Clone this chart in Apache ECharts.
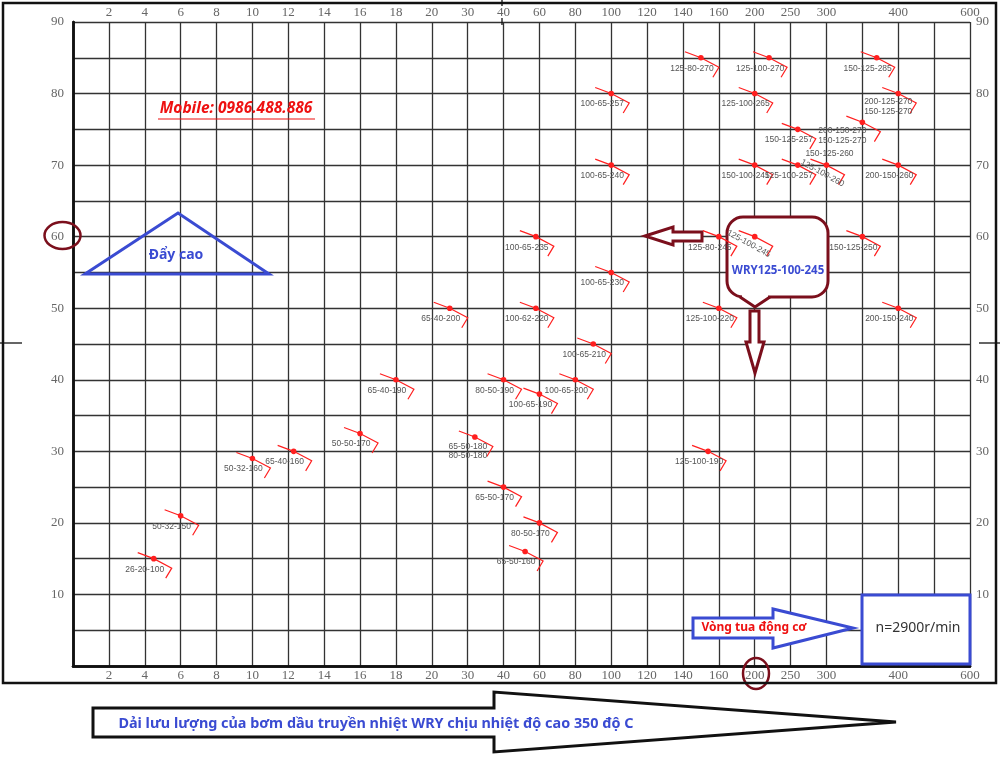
<!DOCTYPE html>
<html><head><meta charset="utf-8">
<script src="https://cdn.jsdelivr.net/npm/echarts@6/dist/echarts.min.js"></script>
<style>html,body{margin:0;padding:0;background:#fff}#c{width:1000px;height:762px}</style>
</head><body><div id="c"></div>
<script>
// ---- axis ticks (non-linear flow axis, m3/h) ----
const xTickValues = [0,2,4,6,8,10,12,14,16,18,20,30,40,60,80,100,120,140,160,200,250,300,350,400,500,600];
const xTickLabels = ['','2','4','6','8','10','12','14','16','18','20','30','40','60','80','100','120','140','160','200','250','300','','400','','600'];
const yTickLabels = [10,20,30,40,50,60,70,80,90];

// ---- pump models, flow (m3/h) and head (m) ----
const models = [
 '26-20-100','50-32-150','50-32-160','65-40-160','50-50-170','65-40-190','65-40-200',
 '65-50-180\n80-50-180','65-50-170','80-50-190','65-50-160','80-50-170','100-65-190',
 '100-62-220','100-65-235','100-65-200','100-65-210','100-65-230','100-65-240','100-65-257',
 '125-100-190','125-80-245','125-100-220','125-80-270','125-100-270','125-100-265',
 '150-100-245','125-100-245','125-100-257','150-125-257','150-125-260\n125-100-260',
 '200-150-270\n150-125-270','150-125-250','150-125-285','200-125-270\n150-125-270',
 '200-150-260','200-150-240'
];
const flowRate = [4.5,6,10,12.3,16,18,25,32,40,40,52,60,60,58,58,80,90,100,100,100,
 154,160,160,150,220,200,200,200,260,260,300,350,350,370,400,400,400];
const head = [15,21,29,30,32.5,40,50,32,25,40,16,20,38,50,60,40,45,55,70,80,
 30,60,50,85,85,80,70,60,70,75,70,76,60,85,80,70,50];

function slotOf(q){
  for (let i=0;i<xTickValues.length-1;i++){
    const a=xTickValues[i], b=xTickValues[i+1];
    if (q>=a && q<=b) return i+(q-a)/(b-a);
  }
  return xTickValues.length-1;
}

const RED='#ff1f1f', BLUE='#3a4bd2', DARKRED='#7b0f1c', GRID='#333';
const labelTweaks = {
  '200-150-270\n150-125-270': {dx:-20, dy:13.5},
  '200-125-270\n150-125-270': {dx:-10, dy:13},
  '65-50-180\n80-50-180': {dx:-7, dy:14},
  '125-100-245': {dx:-6, dy:7, rot:-0.5},
  '150-125-260\n125-100-260': {parts:[{dx:3,dy:-11,rot:0},{dx:-4,dy:8,rot:-0.5}]}
};
const LABEL_FONT='8.5px "Liberation Sans", Arial, sans-serif';

function renderItem(params, api){
  const p = api.coord([api.value(0), api.value(1)]);
  const x=p[0], y=p[1];
  const name = models[api.value(2)];
  const t = labelTweaks[name] || {dx:-9, dy:10.5, rot:0};
  const children = [
    {type:'polyline', shape:{points:[[x-16,y-6],[x,y],[x+18,y+9.5],[x+12,y+19.5]]},
     style:{stroke:RED, lineWidth:1.2, fill:null}},
    {type:'circle', shape:{cx:x, cy:y, r:2.8}, style:{fill:RED}}
  ];
  const mk = (text, o) => ({type:'text', x:x+o.dx, y:y+o.dy, rotation:o.rot||0,
    style:{text:text, fill:'#555', font:LABEL_FONT, align:'center', verticalAlign:'middle', lineHeight:9.5}});
  if (t.parts){
    name.split('\n').forEach((s,k)=>children.push(mk(s,t.parts[k])));
  } else children.push(mk(name,t));
  return {type:'group', children};
}

const axisLabelX = {fontFamily:'"Liberation Serif", serif', fontSize:13, color:'#666', margin:3,
  formatter: v => xTickLabels[Math.round(v)] || ''};
const axisLabelY = (m) => ({fontFamily:'"Liberation Serif", serif', fontSize:13, color:'#666', margin:m,
  formatter: v => yTickLabels.indexOf(v)>=0 ? String(v) : ''});
const axisLineBold = {show:true, lineStyle:{color:'#111', width:2.5}};

const chart = echarts.init(document.getElementById('c'));
chart.setOption({
  animation:false,
  backgroundColor:'#fff',
  grid:{left:73, top:22, width:897, height:644},
  xAxis:[
    {type:'value', position:'bottom', min:0, max:25, interval:1, axisLine:axisLineBold,
     axisTick:{show:false}, axisLabel:axisLabelX,
     splitLine:{show:true, lineStyle:{color:GRID, width:1.3}}},
    {type:'value', position:'top', min:0, max:25, interval:1, axisLine:axisLineBold,
     axisTick:{show:false}, axisLabel:axisLabelX, splitLine:{show:false}}
  ],
  yAxis:[
    {type:'value', position:'left', min:0, max:90, interval:5, axisLine:axisLineBold,
     axisTick:{show:false}, axisLabel:axisLabelY(9),
     splitLine:{show:true, lineStyle:{color:GRID, width:1.3}}},
    {type:'value', position:'right', min:0, max:90, interval:5, axisLine:axisLineBold,
     axisTick:{show:false}, axisLabel:axisLabelY(6), splitLine:{show:false}}
  ],
  series:[{
    type:'custom', z:5, clip:false,
    data: models.map((m,i)=>[slotOf(flowRate[i]), head[i], i]),
    encode:{x:0, y:1},
    renderItem
  }],
  graphic:[
    {type:'rect', z:20, silent:true, shape:{x:3,y:3,width:993,height:680}, style:{fill:null, stroke:'#111', lineWidth:2.5}},
    {type:'line', z:20, shape:{x1:0,y1:343,x2:22,y2:343}, style:{stroke:'#111', lineWidth:1.3}},
    {type:'line', z:20, shape:{x1:979,y1:343,x2:1000,y2:343}, style:{stroke:'#111', lineWidth:1.3}},
    {type:'line', z:20, shape:{x1:502,y1:0,x2:502,y2:6}, style:{stroke:'#111', lineWidth:1.3}},
    {type:'line', z:20, shape:{x1:502,y1:18,x2:502,y2:25}, style:{stroke:'#111', lineWidth:1.3}},
    // Đẩy cao triangle
    {type:'polygon', z:3, shape:{points:[[85,274],[178,213],[269,274]]}, style:{fill:null, stroke:BLUE, lineWidth:3}},
    {type:'text', z:3, x:176, y:255, style:{text:'Đẩy cao', fill:BLUE, font:'bold 14px "Noto Sans"', align:'center', verticalAlign:'middle'}},
    // Mobile
    {type:'text', z:3, x:236, y:109, style:{text:'Mobile: 0986.488.886', fill:'#ee1111', font:'italic bold 15.5px "Noto Sans"', align:'center', verticalAlign:'middle'}},
    {type:'line', z:3, shape:{x1:158,y1:119,x2:315,y2:119}, style:{stroke:'#ee1111', lineWidth:1.2}},
    // ellipses
    {type:'ellipse', z:3, shape:{cx:62.5,cy:235.5,rx:18,ry:13.5}, style:{fill:null, stroke:DARKRED, lineWidth:2.5}},
    {type:'ellipse', z:3, shape:{cx:756,cy:673.5,rx:13,ry:15.5}, style:{fill:null, stroke:DARKRED, lineWidth:2.5}},
    // left arrow
    {type:'polygon', z:3, shape:{points:[[645,236],[673,227],[673,232],[702,232],[702,241],[673,241],[673,245]]}, style:{fill:'#fff', stroke:DARKRED, lineWidth:3}},
    // bubble
    {type:'rect', z:3, shape:{x:727,y:217,width:101,height:80,r:16}, style:{fill:'#fff', stroke:DARKRED, lineWidth:3}},
    {type:'polygon', z:3, shape:{points:[[742,294],[742,297],[755,307],[768,297],[768,294]]}, style:{fill:'#fff', stroke:null}},
    {type:'polyline', z:3, shape:{points:[[740,297],[755,307],[770,297]]}, style:{fill:null, stroke:DARKRED, lineWidth:3}},
    {type:'text', z:3, x:778, y:271, style:{text:'WRY125-100-245', fill:BLUE, font:'bold 11.5px "Noto Sans"', align:'center', verticalAlign:'middle'}},
    // down arrow
    {type:'polygon', z:3, shape:{points:[[750,311],[759,311],[759,342],[764,342],[755,373],[746,342],[750,342]]}, style:{fill:'#fff', stroke:DARKRED, lineWidth:3}},
    // blue arrow
    {type:'polygon', z:3, shape:{points:[[693,618],[773,618],[773,609],[853,628],[773,648],[773,638],[693,638]]}, style:{fill:'#fff', stroke:BLUE, lineWidth:3}},
    {type:'text', z:3, x:754, y:628, style:{text:'Vòng tua động cơ', fill:'#ee1111', font:'bold 12px "Noto Sans"', align:'center', verticalAlign:'middle'}},
    // box
    {type:'rect', z:3, shape:{x:862,y:595,width:108,height:69}, style:{fill:'#fff', stroke:BLUE, lineWidth:3}},
    {type:'text', z:3, x:918, y:628, style:{text:'n=2900r/min', fill:'#333', font:'14px "Noto Sans"', align:'center', verticalAlign:'middle'}},
    // bottom arrow
    {type:'polygon', z:3, shape:{points:[[93,708],[494,708],[494,692],[896,722],[494,752],[494,737],[93,737]]}, style:{fill:'#fff', stroke:'#111', lineWidth:3}},
    {type:'text', z:3, x:376, y:724, style:{text:'Dải lưu lượng của bơm dầu truyền nhiệt WRY chịu nhiệt độ cao 350 độ C', fill:BLUE, font:'bold 14.4px "Noto Sans"', align:'center', verticalAlign:'middle'}}
  ]
});
</script></body></html>
